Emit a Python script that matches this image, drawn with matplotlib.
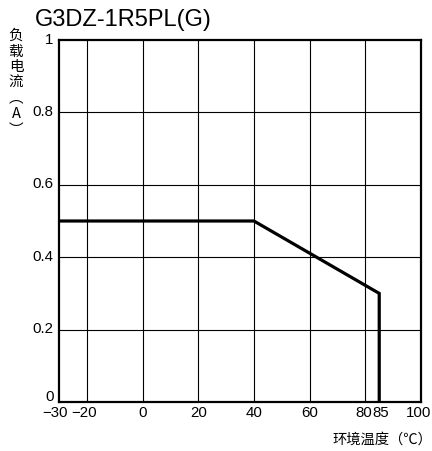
import matplotlib
matplotlib.use("Agg")
import matplotlib.pyplot as plt
from matplotlib.transforms import ScaledTranslation

plt.rcParams['font.family'] = ['Liberation Sans', 'Noto Sans CJK SC', 'DejaVu Sans']

# data
temp = [-30, 40, 85, 85]
current = [0.5, 0.5, 0.3, 0.0]
xticks = [-30, -20, 0, 20, 40, 60, 80, 85, 100]
xtick_labels = ['−30', '−20', '0', '20', '40', '60', '80', '85', '100']
yticks = [0, 0.2, 0.4, 0.6, 0.8, 1]
ytick_labels = ['0', '0.2', '0.4', '0.6', '0.8', '1']
grid_x = [-20, 0, 20, 40, 60, 80]
grid_y = [0.2, 0.4, 0.6, 0.8]
title = 'G3DZ-1R5PL(G)'

fig = plt.figure(figsize=(4.32, 4.52), dpi=100)
ax = fig.add_axes([59/432, 49/452, 362/432, 362/452])
ax.set_xlim(-30, 100)
ax.set_ylim(0, 1)
for gx in grid_x:
    ax.axvline(gx, color='black', lw=0.8, zorder=1)
for gy in grid_y:
    ax.axhline(gy, color='black', lw=0.8, zorder=1)
ax.plot(temp, current, color='black', lw=2.3, solid_joinstyle='miter', zorder=3)
ax.set_xticks(xticks)
ax.set_xticklabels(xtick_labels)
ax.set_yticks(yticks)
ax.set_yticklabels(ytick_labels)
ax.tick_params(length=0, labelsize=10.8)
ax.tick_params(axis='x', pad=2)
ax.tick_params(axis='y', pad=4)

def shift(lbl, dx, dy):
    lbl.set_transform(lbl.get_transform() + ScaledTranslation(dx/100, dy/100, fig.dpi_scale_trans))

for lbl in ax.get_xticklabels():
    t = lbl.get_text()
    if t == '80':
        shift(lbl, -2, 0)
    elif t == '85':
        shift(lbl, 1.5, 0)
    elif t == '−30':
        shift(lbl, -4, 0)
    elif t == '−20':
        shift(lbl, -3, 0)
    elif t == '100':
        shift(lbl, -2, 0)
for lbl in ax.get_yticklabels():
    if lbl.get_text() == '0':
        shift(lbl, 0, 7)
    else:
        shift(lbl, 0, 3)
for s in ax.spines.values():
    s.set_linewidth(1.6)
    s.set_zorder(4)

fig.text(35/432, 1 - 20/452, title, fontsize=17, ha='left', va='center')
fig.text(16/432, 1 - 29/452, '负\n载\n电\n流\n︵\nA\n︶', fontsize=10.5, ha='center', va='top',
         family=['Noto Sans CJK SC', 'DejaVu Sans'], linespacing=1.15)
fig.text(1.0, 1 - 440/452, '环境温度（℃）', fontsize=10.3, ha='right', va='center',
         family=['Noto Sans CJK SC', 'DejaVu Sans'])

fig.savefig('out.png', dpi=100)
